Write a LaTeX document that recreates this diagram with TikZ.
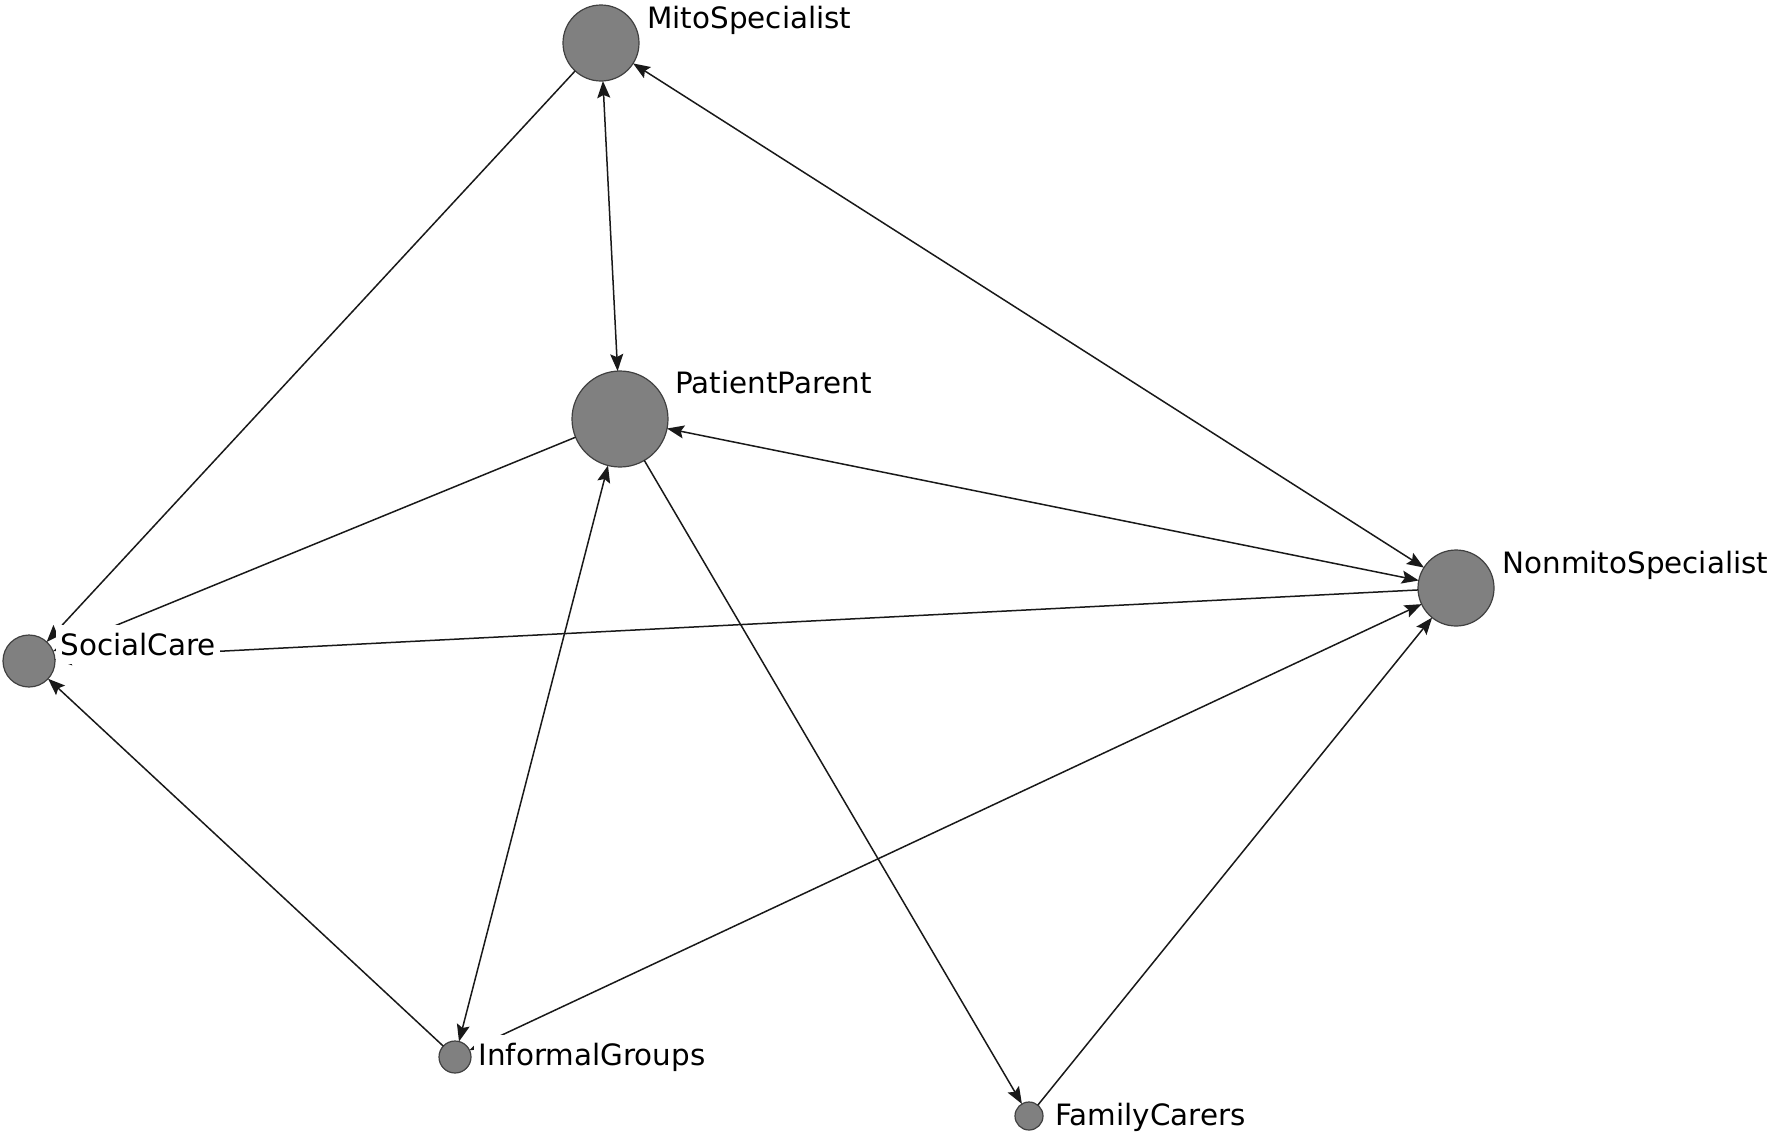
\documentclass[tikz,border=0pt]{standalone}
\usepackage{fontspec}
\setmainfont{DejaVu Sans}
\usetikzlibrary{arrows.meta}
\begin{document}
\begin{tikzpicture}[x=0.5pt,y=-0.5pt,
  vert/.style={circle,draw=black!75,line width=0.6pt,fill={rgb,255:red,128;green,128;blue,128},inner sep=0pt,outer sep=0pt,minimum size=#1},
  lab/.style={anchor=base west,fill=white,inner xsep=2pt,inner ysep=2pt,text height=1.3em,text depth=0.25em,font=\fontsize{14.7}{17}\selectfont},
  edge/.style={line width=0.75pt,draw=black!90},
  >={Stealth[length=8.5pt,width=6.5pt,inset=1.5pt]}]
\useasboundingbox (0,0) rectangle (1770,1141);
\node[vert=38pt] (mito) at (601,43) {};
\node[vert=48pt] (pp) at (620,419) {};
\node[vert=38pt] (nm) at (1456,588) {};
\node[vert=26pt] (sc) at (29,661) {};
\node[vert=16pt] (ig) at (455,1057) {};
\node[vert=14pt] (fc) at (1029,1116) {};
\draw[edge,<->] (mito) -- (pp);
\draw[edge,->] (mito) -- (sc);
\draw[edge,<->] (nm) -- (mito);
\draw[edge,<->] (pp) -- (nm);
\draw[edge,->] (pp) -- (sc);
\draw[edge,->] (nm) -- (sc);
\draw[edge,->] (ig) -- (sc);
\draw[edge,<->] (pp) -- (ig);
\draw[edge,<->] (ig) -- (nm);
\draw[edge,->] (pp) -- (fc);
\draw[edge,->] (fc) -- (nm);
\node[lab] (lmito) at (643,28) {MitoSpecialist};
\node[lab] (lpp) at (671,393) {PatientParent};
\node[lab] (lnm) at (1498,573) {NonmitoSpecialist};
\node[lab] (lsc) at (56,655) {SocialCare};
\node[lab] (lig) at (474,1065) {InformalGroups};
\node[lab] (lfc) at (1051,1125) {FamilyCarers};
\end{tikzpicture}
\end{document}
